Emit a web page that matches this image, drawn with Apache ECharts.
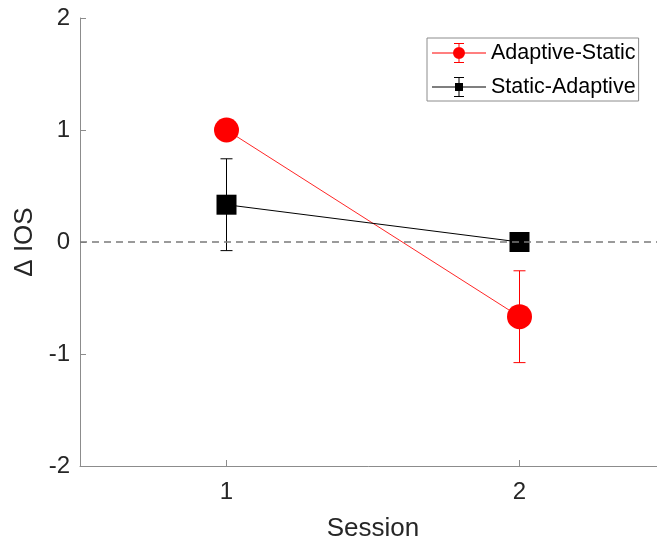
<!DOCTYPE html>
<html>
<head>
<meta charset="utf-8">
<script src="https://cdn.jsdelivr.net/npm/echarts@6/dist/echarts.min.js"></script>
<style>
html,body{margin:0;padding:0;background:#fff;overflow:hidden;}
#c{width:657px;height:543px;}
</style>
</head>
<body>
<div id="c"></div>
<script>
// ---- data ----
const sessions = [1, 2];
const xTickValues = [1, 2];
const yTickValues = [-2, -1, 0, 1, 2];
const seriesNames = ['Adaptive-Static', 'Static-Adaptive'];
const adaptiveStaticMean = [1.0, -0.667];
const adaptiveStaticErr = [0, 0.41];
const staticAdaptiveMean = [0.333, 0.0];
const staticAdaptiveErr = [0.41, 0];
const referenceLine = 0;

const FONT = "'Liberation Sans', Arial, Helvetica, sans-serif";
const RED = '#ff0000';
const BLACK = '#000000';

function pairs(xs, ys) { return xs.map((x, i) => [x, ys[i]]); }
function errData(xs, ys, es) { return xs.map((x, i) => [x, ys[i] - es[i], ys[i] + es[i]]); }

function errorBarRender(color) {
  return function (params, api) {
    const x = api.value(0);
    const lo = api.coord([x, api.value(1)]);
    const hi = api.coord([x, api.value(2)]);
    if (Math.abs(hi[1] - lo[1]) < 0.5) return null;
    const cap = 6;
    const st = { stroke: color, lineWidth: 1 };
    return {
      type: 'group',
      children: [
        { type: 'line', shape: { x1: lo[0], y1: lo[1], x2: hi[0], y2: hi[1] }, style: st },
        { type: 'line', shape: { x1: lo[0] - cap, y1: lo[1], x2: lo[0] + cap, y2: lo[1] }, style: st },
        { type: 'line', shape: { x1: hi[0] - cap, y1: hi[1], x2: hi[0] + cap, y2: hi[1] }, style: st }
      ]
    };
  };
}

// legend icons (54 x 20 box): line, error bar with caps, marker
const iconCircle = 'path://M0,9.5 L54,9.5 L54,10.5 L0,10.5 Z M26.5,0 L27.5,0 L27.5,20 L26.5,20 Z M22,0 L32,0 L32,1 L22,1 Z M22,19 L32,19 L32,20 L22,20 Z M21,10 A6,6 0 1,1 33,10 A6,6 0 1,1 21,10 Z';
const iconSquare = 'path://M0,9.5 L54,9.5 L54,10.5 L0,10.5 Z M26.5,0 L27.5,0 L27.5,20 L26.5,20 Z M22,0 L32,0 L32,1 L22,1 Z M22,19 L32,19 L32,20 L22,20 Z M23,6 L31,6 L31,14 L23,14 Z';

const chart = echarts.init(document.getElementById('c'), null, { renderer: 'canvas' });
chart.setOption({
  animation: false,
  backgroundColor: '#ffffff',
  textStyle: { fontFamily: FONT },
  grid: { left: 80, top: 18, width: 586, height: 448, containLabel: false, outerBoundsMode: 'none' },
  xAxis: {
    type: 'value',
    min: 0.5, max: 2.5, interval: 0.5,
    name: 'Session',
    nameLocation: 'middle',
    nameGap: 50,
    nameTextStyle: { fontSize: 26, color: '#262626', fontFamily: FONT },
    axisLine: { show: true, onZero: false, lineStyle: { color: '#8c8c8c', width: 1 } },
    axisTick: { show: true, inside: true, length: 6, customValues: xTickValues, lineStyle: { color: '#8c8c8c' } },
    axisLabel: { show: true, customValues: xTickValues, fontSize: 24, color: '#262626', margin: 14, fontFamily: FONT },
    splitLine: { show: false }
  },
  yAxis: {
    type: 'value',
    min: -2, max: 2, interval: 1,
    name: '\u0394 IOS',
    nameLocation: 'middle',
    nameGap: 33,
    nameTextStyle: { fontSize: 26, color: '#262626', fontFamily: FONT },
    axisLine: { show: true, onZero: false, lineStyle: { color: '#8c8c8c', width: 1 } },
    axisTick: { show: true, inside: true, length: 6, lineStyle: { color: '#8c8c8c' } },
    axisLabel: { show: true, fontSize: 24, color: '#262626', margin: 10, fontFamily: FONT },
    splitLine: { show: false }
  },
  legend: {
    orient: 'vertical',
    left: 427, top: 38,
    padding: [4, 3, 3, 5],
    itemGap: 12,
    itemWidth: 54, itemHeight: 20,
    backgroundColor: '#ffffff',
    borderColor: '#8c8c8c', borderWidth: 1,
    textStyle: { fontSize: 21.5, color: '#000000', fontFamily: FONT },
    data: [
      { name: seriesNames[0], icon: iconCircle, itemStyle: { color: RED } },
      { name: seriesNames[1], icon: iconSquare, itemStyle: { color: BLACK } }
    ]
  },
  series: [
    {
      name: 'zero',
      type: 'line',
      data: [],
      z: 1,
      silent: true,
      markLine: {
        silent: true,
        symbol: 'none',
        label: { show: false },
        lineStyle: { type: [7, 5], color: '#7a7a7a', width: 1.5 },
        data: [{ yAxis: referenceLine }]
      }
    },
    {
      name: 'errA',
      type: 'custom',
      z: 2,
      renderItem: errorBarRender(RED),
      encode: { x: 0, y: [1, 2] },
      data: errData(sessions, adaptiveStaticMean, adaptiveStaticErr)
    },
    {
      name: 'errB',
      type: 'custom',
      z: 2,
      renderItem: errorBarRender(BLACK),
      encode: { x: 0, y: [1, 2] },
      data: errData(sessions, staticAdaptiveMean, staticAdaptiveErr)
    },
    {
      name: seriesNames[0],
      type: 'line',
      z: 3,
      data: pairs(sessions, adaptiveStaticMean),
      symbol: 'circle',
      symbolSize: 25,
      lineStyle: { color: 'rgba(255,0,0,0.85)', width: 1 },
      itemStyle: { color: RED },
      emphasis: { disabled: true }
    },
    {
      name: seriesNames[1],
      type: 'line',
      z: 4,
      data: pairs(sessions, staticAdaptiveMean),
      symbol: 'rect',
      symbolSize: 20,
      lineStyle: { color: BLACK, width: 1 },
      itemStyle: { color: BLACK },
      emphasis: { disabled: true }
    }
  ]
});
</script>
</body>
</html>
